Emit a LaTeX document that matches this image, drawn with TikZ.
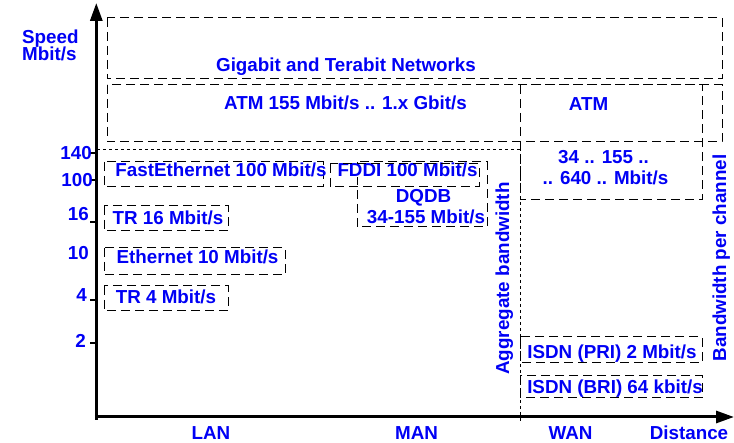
\documentclass[tikz,border=0pt]{standalone}
\usepackage{fontspec}
\setmainfont{Liberation Sans}
\usetikzlibrary{arrows.meta}
\definecolor{lblue}{RGB}{0,0,245}
\begin{document}
\begin{tikzpicture}[x=1pt,y=-1pt,
  lbl/.style={text=lblue,font=\bfseries\fontsize{18.8}{21}\selectfont,inner sep=0pt,anchor=base},
  dbox/.style={draw=black,line width=1pt,dash pattern=on 9pt off 5pt},
  dotl/.style={draw=black,line width=1pt,dash pattern=on 3pt off 3pt},
  axisline/.style={line width=3pt,-{Triangle[length=18pt,width=12pt]}},
  tickline/.style={line width=1.5pt}]
\useasboundingbox (0,0) rectangle (734,443);
% axes
\coordinate (o) at (96.3,420);
\coordinate (ytop) at (96.3,3);
\coordinate (ox) at (94.8,417);
\coordinate (xend) at (734,417);
\draw[axisline] (o) -- (ytop);
\draw[axisline] (ox) -- (xend);
% ticks
\foreach \y/\n in {153/t140,180/t100,222/t16,300/t4,343/t2}{
  \coordinate (\n a) at (90,\y);
  \coordinate (\n b) at (96,\y);
  \draw[tickline] (\n a) -- (\n b);
}
% dotted separators
\coordinate (d1) at (97,150);
\coordinate (d2) at (520,150);
\coordinate (d3) at (520,142);
\coordinate (d4) at (520,422);
\draw[dotl] (d1) -- (d2);
\draw[dotl] (d3) -- (d4);
% boxes
\draw[dbox] (107,18) rectangle (722,79);
\draw[dbox] (107,85) rectangle (722,142);
\draw[dbox] (520,85) rectangle (702,200);
\draw[dbox] (104,162) rectangle (323,187);
\draw[dbox] (357,162) rectangle (487,227);
\node[lbl,fill=white] (fddi) at (407.5,177) {FDDI 100 Mbit/s};
\draw[dbox] (330,164) rectangle (479,187);
\draw[dbox] (104,206) rectangle (228,231);
\draw[dbox] (104,248) rectangle (285,275);
\draw[dbox] (104,286) rectangle (228,311);
\draw[dbox] (520,337) rectangle (702,363);
\draw[dbox] (520,376) rectangle (702,398);
% labels
\node[lbl,anchor=base west] (speed) at (22,43.3) {Speed};
\node[lbl,anchor=base west] (mbits) at (22,61) {Mbit/s};
\node[lbl,anchor=base east] (n140) at (92,160) {140};
\node[lbl,anchor=base east] (n100) at (93,187) {100};
\node[lbl,anchor=base east] (n16) at (89,221) {16};
\node[lbl,anchor=base east] (n10) at (89,260) {10};
\node[lbl,anchor=base east] (n4) at (87,302) {4};
\node[lbl,anchor=base east] (n2) at (86,348) {2};
\node[lbl] (giga) at (346,72) {Gigabit and Terabit Networks};
\node[lbl] (atm1) at (345.5,110) {ATM 155 Mbit/s .. 1.x Gbit/s};
\node[lbl] (atm2) at (588.5,110.5) {ATM};
\node[lbl] (atm3) at (603.5,164) {34 .. 155 ..};
\node[lbl] (atm4) at (605.5,185) {.. 640 .. Mbit/s};
\node[lbl] (fast) at (221,177) {FastEthernet 100 Mbit/s};
\node[lbl] (dqdb1) at (423.5,203) {DQDB};
\node[lbl] (dqdb2) at (426,224) {34-155 Mbit/s};
\node[lbl] (tr16) at (168,225) {TR 16 Mbit/s};
\node[lbl] (eth10) at (197.5,264) {Ethernet 10 Mbit/s};
\node[lbl] (tr4) at (166,304) {TR 4 Mbit/s};
\node[lbl] (pri) at (612,359) {ISDN (PRI) 2 Mbit/s};
\node[lbl] (bri) at (615,394) {ISDN (BRI) 64 kbit/s};
\node[lbl] (lan) at (211,440) {LAN};
\node[lbl] (man) at (416.5,440) {MAN};
\node[lbl] (wan) at (570.5,440) {WAN};
\node[lbl] (dist) at (689,440) {Distance};
\node[lbl,rotate=90] (agg) at (509,278.5) {Aggregate bandwidth};
\node[lbl,rotate=90] (bpc) at (726,258) {Bandwidth per channel};
\end{tikzpicture}
\end{document}
